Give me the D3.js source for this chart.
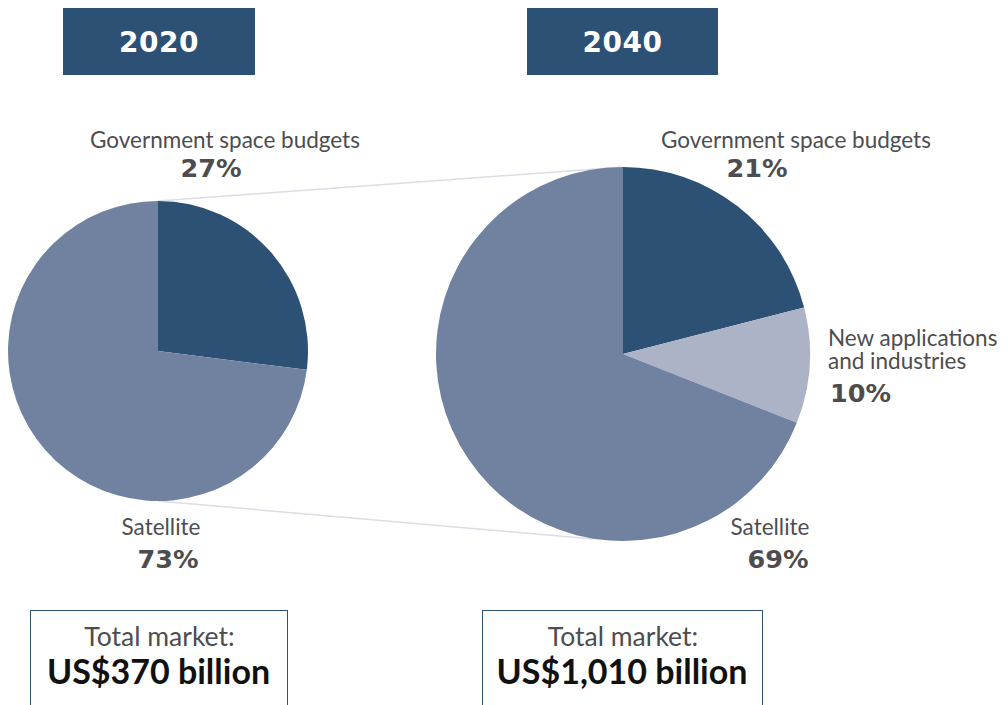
<!DOCTYPE html>
<html>
<head>
<meta charset="utf-8">
<script src="https://cdn.jsdelivr.net/npm/d3@7"></script>
<style>
  html, body { margin: 0; padding: 0; background: #fff; }
  svg { display: block; }
</style>
</head>
<body>
<svg id="chart" width="1008" height="705"></svg>
<script>
// Space economy market split by segment
const years = ["2020", "2040"];
const totals = ["US$370 billion", "US$1,010 billion"];
const segments2020 = ["Government space budgets", "Satellite"];
const values2020 = [27, 73];
const segments2040 = ["Government space budgets", "New applications and industries", "Satellite"];
const values2040 = [21, 10, 69];

const colors = {
  "Government space budgets": "#2d5075",
  "New applications and industries": "#adb3c7",
  "Satellite": "#7182a0"
};

const svg = d3.select("#chart");
const labelFont = "'Lato', 'Open Sans', sans-serif";
const boldFont = "'DejaVu Sans', sans-serif";

const pies = [
  { cx: 158, cy: 351, r: 150, segs: segments2020, vals: values2020 },
  { cx: 623, cy: 354, r: 187, segs: segments2040, vals: values2040 }
];

// connector lines between the two pies
svg.append("line").attr("x1", pies[0].cx).attr("y1", pies[0].cy - pies[0].r)
  .attr("x2", pies[1].cx).attr("y2", pies[1].cy - pies[1].r)
  .attr("stroke", "#dcdde5").attr("stroke-width", 1.5);
svg.append("line").attr("x1", pies[0].cx).attr("y1", pies[0].cy + pies[0].r)
  .attr("x2", pies[1].cx - 30).attr("y2", pies[1].cy + pies[1].r - 2)
  .attr("stroke", "#dcdde5").attr("stroke-width", 1.5);

const pieGen = d3.pie().sort(null).value(d => d.v);

pies.forEach(p => {
  const data = p.segs.map((s, i) => ({ s, v: p.vals[i] }));
  const arc = d3.arc().innerRadius(0).outerRadius(p.r);
  svg.append("g").attr("transform", `translate(${p.cx},${p.cy})`)
    .selectAll("path").data(pieGen(data)).join("path")
    .attr("d", arc).attr("fill", d => colors[d.data.s]);
});

// year header boxes
const headers = [{ x: 63, w: 192 }, { x: 527, w: 191 }];
headers.forEach((h, i) => {
  svg.append("rect").attr("x", h.x).attr("y", 8).attr("width", h.w).attr("height", 67).attr("fill", "#2d5075");
  svg.append("text").attr("x", h.x + h.w / 2).attr("y", 52).attr("text-anchor", "middle")
    .attr("fill", "#fff").attr("font-family", boldFont).attr("font-weight", "bold")
    .attr("font-size", 28).attr("letter-spacing", 0.5).text(years[i]);
});

// segment labels: name (one or more lines) and a bold percentage
function label(x, y, lines, pct, pctX, pctY, anchor) {
  const g = svg.append("g");
  const t = g.append("text").attr("text-anchor", anchor)
    .attr("fill", "#4d4d4f").attr("font-family", labelFont).attr("font-size", 22.5);
  lines.forEach((l, i) => {
    t.append("tspan").attr("x", x).attr("y", y + i * 23).text(l);
  });
  g.append("text").attr("x", pctX).attr("y", pctY).attr("text-anchor", anchor)
    .attr("fill", "#4d4d4f").attr("font-family", boldFont).attr("font-weight", "bold")
    .attr("font-size", 25.5).text(pct + "%");
}
label(225, 148, ["Government space budgets"], values2020[0], 211, 177, "middle");
label(161, 535, ["Satellite"], values2020[1], 168, 568, "middle");
label(796, 148, ["Government space budgets"], values2040[0], 757, 177, "middle");
label(828, 346, ["New applications", "and industries"], values2040[1], 830, 402, "start");
label(770, 535, ["Satellite"], values2040[2], 778, 568, "middle");

// total market boxes
const boxes = [{ x: 30, w: 257 }, { x: 482, w: 280 }];
boxes.forEach((b, i) => {
  svg.append("rect").attr("x", b.x + 0.5).attr("y", 610.5).attr("width", b.w).attr("height", 110)
    .attr("fill", "none").attr("stroke", "#2d5075").attr("stroke-width", 1);
  svg.append("text").attr("x", b.x + b.w / 2 + 1).attr("y", 646).attr("text-anchor", "middle")
    .attr("fill", "#4d4d4f").attr("font-family", labelFont).attr("font-size", 26.5).text("Total market:");
  svg.append("text").attr("x", b.x + b.w / 2).attr("y", 684).attr("text-anchor", "middle")
    .attr("fill", "#111").attr("font-family", labelFont).attr("font-weight", "bold")
    .attr("font-size", 34).text(totals[i]);
});
</script>
</body>
</html>
